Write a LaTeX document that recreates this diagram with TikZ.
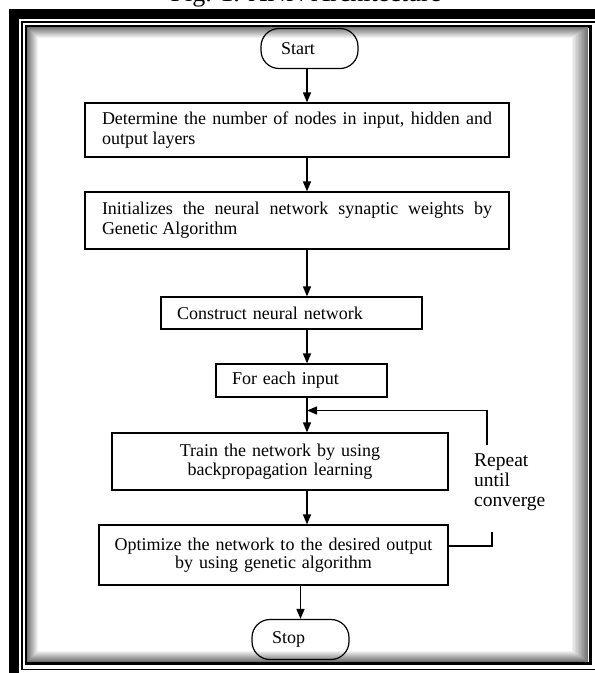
\documentclass[tikz,border=0pt]{standalone}
\usepackage{fontspec}
\setmainfont{Liberation Serif}
\usetikzlibrary{arrows.meta,positioning}
\hyphenpenalty=10000
\exhyphenpenalty=10000

\tikzset{
  procbox/.style={draw, line width=1.2pt, inner ysep=0pt, font=\fontsize{18}{20}\selectfont},
  termbox/.style={draw, line width=1.2pt, rounded corners=18pt, minimum width=97pt,
    minimum height=40pt, text width=57pt, inner xsep=20pt, align=left, font=\fontsize{18}{20}\selectfont},
  flow/.style={line width=1.5pt, -{Triangle[length=10pt,width=8pt]}},
}

\begin{document}
\begin{tikzpicture}[x=1pt, y=-1pt]
  \useasboundingbox (0,0) rectangle (595,673);
  \clip (0,0) rectangle (595,673);
  % frame
  \draw[line width=10pt] (14,14) rectangle (605,685);
  \draw[line width=1.5pt] (22,22) rectangle (596,669.5);
  \draw[line width=3pt] (26,26) rectangle (590.5,663.5);
  \foreach \d in {0,...,11}{
    \pgfmathtruncatemacro{\shade}{55-5*\d}
    \draw[black!\shade, line width=1.2pt] (28+\d,28+\d) rectangle (587.5-1.5*\d,661-\d);
  }
  \node[anchor=base, font=\fontsize{26}{28}\selectfont] (caption) at (306,1) {Fig. 1. ANN Architecture};

  \coordinate (spine) at (307,0);
  \node[termbox] (start) at (309.5,48.5) {Start};
  \node[procbox, text width=390pt, inner xsep=17pt, minimum height=54pt, align=justify] (init) at (297,130)
    {Determine the number of nodes in input, hidden and\linebreak output layers};
  \node[procbox, text width=390pt, inner xsep=17pt, minimum height=57pt, align=justify] (weights) at (297,220.5)
    {Initializes the neural network synaptic weights by\linebreak Genetic Algorithm};
  \node[procbox, text width=229pt, inner xsep=16pt, minimum height=32pt, align=left] (build) at (291.5,313)
    {Construct neural network};
  \node[procbox, text width=139pt, inner xsep=16pt, minimum height=33pt, align=left] (input) at (301.5,380.5)
    {For each input};
  \node[procbox, text width=316pt, inner xsep=10pt, minimum height=57pt, align=center,
    font=\fontsize{18}{18.5}\selectfont] (train) at (280,461.5)
    {Train the network by using\\backpropagation learning};
  \node[procbox, text width=329pt, inner xsep=10pt, minimum height=60pt, align=center,
    font=\fontsize{18}{18.5}\selectfont] (optim) at (273.5,555)
    {Optimize the network to the desired output\\by using genetic algorithm};
  \node[termbox] (stop) at (300.5,639.5) {Stop};
  \node[anchor=west, align=left, inner sep=0pt, font=\fontsize{19.5}{20}\selectfont] (repeat) at (474,482)
    {Repeat\\until\\converge};

  \path[flow]
    (start.south -| spine) edge (init.north -| spine)
    (init.south -| spine) edge (weights.north -| spine)
    (weights.south -| spine) edge (build.north -| spine)
    (build.south -| spine) edge (input.north -| spine)
    (input.south -| spine) edge (train.north -| spine)
    (train.south -| spine) edge (optim.north -| spine)
    (optim.south -| stop) edge (stop.north);

  % repeat loop
  \coordinate (loopa) at (492,532);
  \coordinate (loopb) at (487,445);
  \coordinate (join) at (307,410.5);
  \draw[line width=1.2pt] ([yshift=9pt]optim.east) -| (loopa);
  \draw[flow, line width=1.2pt] (loopb) |- (join);
\end{tikzpicture}
\end{document}
